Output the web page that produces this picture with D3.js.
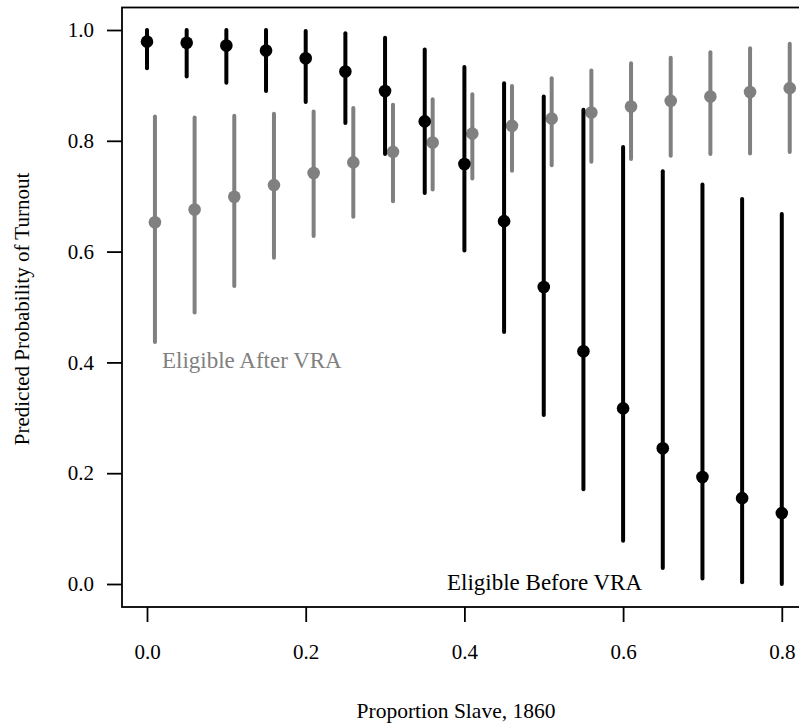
<!DOCTYPE html>
<html><head><meta charset="utf-8">
<script src="https://cdn.jsdelivr.net/npm/d3@7"></script>
<style>body{margin:0;background:#fff}svg{display:block}text{font-family:"Liberation Serif","DejaVu Serif",serif}</style>
</head><body><svg id="c" width="799" height="723"></svg>
<script>
const xBefore = [0,0.05,0.1,0.15,0.2,0.25,0.3,0.35,0.4,0.45,0.5,0.55,0.6,0.65,0.7,0.75,0.8];
const xAfter = [0.01,0.06,0.11,0.16,0.21,0.26,0.31,0.36,0.41,0.46,0.51,0.56,0.61,0.66,0.71,0.76,0.81];
const beforeMean = [0.979,0.977,0.972,0.963,0.949,0.925,0.890,0.835,0.758,0.655,0.536,0.420,0.317,0.245,0.193,0.155,0.128];
const beforeLow  = [0.931,0.916,0.905,0.890,0.870,0.832,0.776,0.706,0.602,0.455,0.305,0.171,0.078,0.029,0.010,0.003,0.000];
const beforeHigh = [1.000,1.000,1.000,1.000,0.998,0.994,0.986,0.965,0.933,0.904,0.880,0.856,0.789,0.745,0.721,0.695,0.668];
const afterMean = [0.653,0.676,0.699,0.720,0.742,0.761,0.780,0.797,0.813,0.827,0.840,0.851,0.862,0.872,0.880,0.888,0.895];
const afterLow  = [0.437,0.490,0.538,0.589,0.628,0.663,0.691,0.712,0.732,0.746,0.756,0.762,0.767,0.773,0.776,0.777,0.780];
const afterHigh = [0.844,0.842,0.845,0.849,0.853,0.859,0.865,0.875,0.884,0.899,0.913,0.927,0.940,0.950,0.960,0.967,0.975];
const xTicks = [0,0.2,0.4,0.6,0.8];
const yTicks = [0,0.2,0.4,0.6,0.8,1.0];
const xTitle = "Proportion Slave, 1860";
const yTitle = "Predicted Probability of Turnout";
const labelAfter = "Eligible After VRA";
const labelBefore = "Eligible Before VRA";

const svg = d3.select("#c");
const x = d3.scaleLinear().domain([0,0.8]).range([147,781.8]);
const y = d3.scaleLinear().domain([0,1]).range([584,30]);
const xMin = x.invert(122), xMax = x.invert(815);
const yMin = y.invert(607), yMax = y.invert(7.5);

svg.append("rect").attr("x",x(xMin)).attr("y",y(yMax)).attr("width",x(xMax)-x(xMin)).attr("height",y(yMin)-y(yMax))
  .attr("fill","none").attr("stroke","#000").attr("stroke-width",1.8);

const fmt = d3.format(".1f");
const gx = svg.append("g").attr("transform",`translate(0,${y(yMin)})`)
  .call(d3.axisBottom(x).tickValues(xTicks).tickFormat(fmt).tickSize(15).tickPadding(22));
const gy = svg.append("g").attr("transform",`translate(${x(xMin)},0)`)
  .call(d3.axisLeft(y).tickValues(yTicks).tickFormat(fmt).tickSize(15).tickPadding(13));
[gx,gy].forEach(g=>{
  g.select(".domain").remove();
  g.selectAll(".tick line").attr("stroke","#000").attr("stroke-width",1.8);
  g.selectAll(".tick text").attr("fill","#000").style("font-size","21px").style("font-family","Liberation Serif");
});

function series(xs, mean, lo, hi, color){
  const g = svg.append("g");
  const data = xs.map((v,i)=>({x:v,m:mean[i],l:lo[i],h:hi[i]}));
  g.selectAll("line").data(data).join("line")
    .attr("x1",d=>x(d.x)).attr("x2",d=>x(d.x)).attr("y1",d=>y(d.l)).attr("y2",d=>y(d.h))
    .attr("stroke",color).attr("stroke-width",4).attr("stroke-linecap","round");
  g.selectAll("circle").data(data).join("circle")
    .attr("cx",d=>x(d.x)).attr("cy",d=>y(d.m)).attr("r",6.3).attr("fill",color);
}
series(xAfter, afterMean, afterLow, afterHigh, "#808080");
series(xBefore, beforeMean, beforeLow, beforeHigh, "#000");

svg.append("text").attr("x",162).attr("y",368).attr("fill","#808080").style("font-size","23px").text(labelAfter);
svg.append("text").attr("x",447).attr("y",590).attr("fill","#000").style("font-size","23px").text(labelBefore);

svg.append("text").attr("x",456).attr("y",718).attr("text-anchor","middle").style("font-size","21.5px").text(xTitle);
svg.append("text").attr("transform","translate(29,309) rotate(-90)").attr("text-anchor","middle").style("font-size","21px").text(yTitle);
</script></body></html>
